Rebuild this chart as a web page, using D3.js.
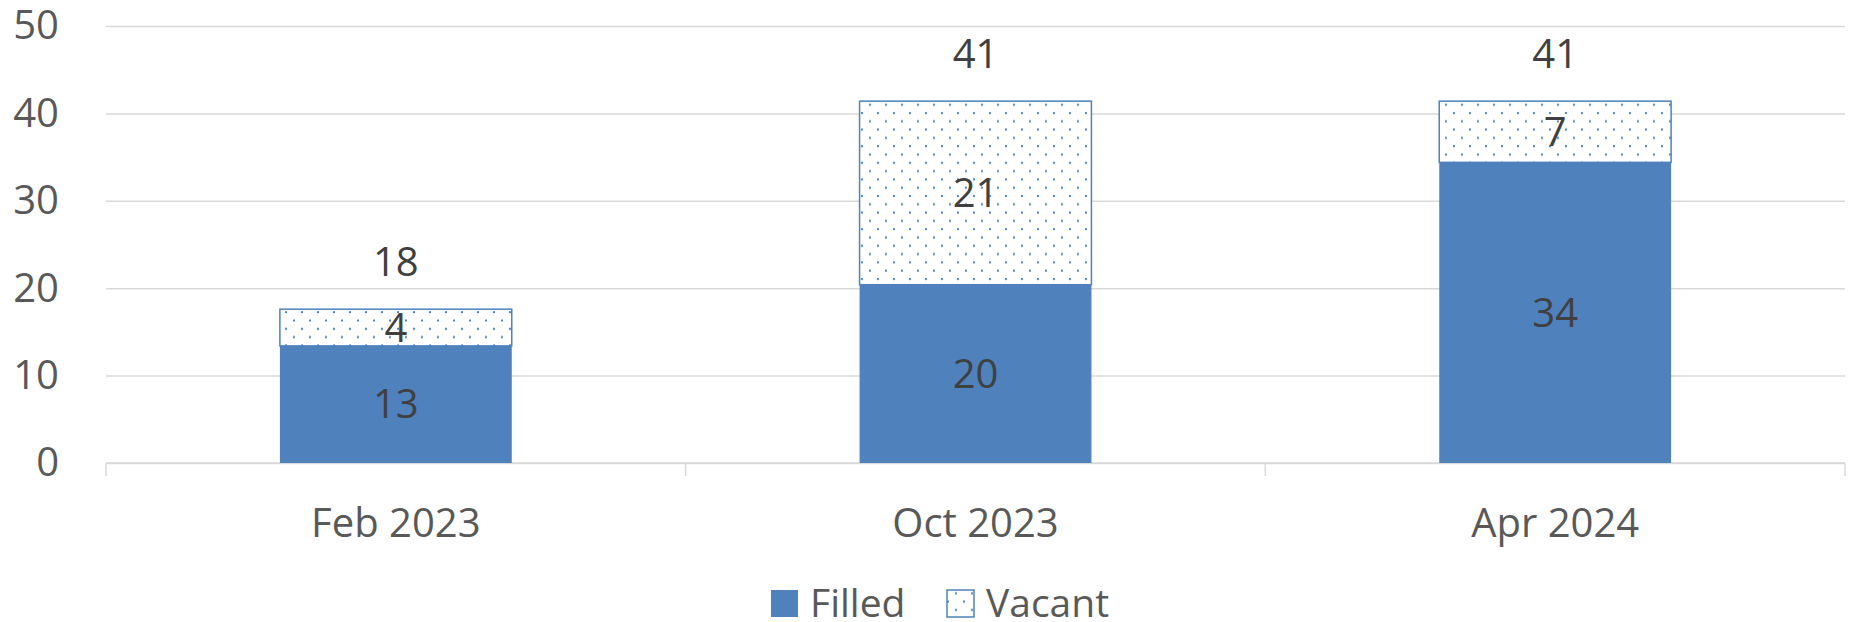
<!DOCTYPE html>
<html>
<head>
<meta charset="utf-8">
<script src="https://cdn.jsdelivr.net/npm/d3@7"></script>
<style>
    body { margin: 0; background: #fff; }
    text { font-family: "Open Sans", "Noto Sans", sans-serif; }
</style>
</head>
<body>
<div id="chart"></div>
<script>
// data
const categories = ["Feb 2023", "Oct 2023", "Apr 2024"]
const filled = [13.4, 20.4, 34.4]
const vacant = [4.2, 21.0, 7.0]
const seriesNames = ["Filled", "Vacant"]
const yTicks = [0, 10, 20, 30, 40, 50]

const BLUE = "#4f81bd"

class StackedBars {

    constructor(parentElement) {
        this.parentElement = parentElement
        this.data = categories.map((c, i) => ({ cat: c, Filled: filled[i], Vacant: vacant[i] }))
        this.initVis()
    }

    initVis() {
        let vis = this

        vis.margin = { top: 26, right: 7, bottom: 159, left: 106 }
        vis.width = 1852 - vis.margin.left - vis.margin.right
        vis.height = 622 - vis.margin.top - vis.margin.bottom

        vis.root = d3.select("#" + vis.parentElement).append("svg")
            .attr("width", 1852)
            .attr("height", 622)

        // dotted fill for vacant
        let pat = vis.root.append("defs").append("pattern")
            .attr("id", "dots")
            .attr("patternUnits", "userSpaceOnUse")
            .attr("width", 16)
            .attr("height", 16.6)
        pat.append("rect").attr("width", 16).attr("height", 16.6).attr("fill", "#fff")
        pat.append("rect").attr("x", 3).attr("y", 3).attr("width", 2).attr("height", 2).attr("fill", BLUE)
        pat.append("rect").attr("x", 11).attr("y", 11.3).attr("width", 2).attr("height", 2).attr("fill", BLUE)

        vis.svg = vis.root.append("g")
            .attr("transform", "translate(" + vis.margin.left + "," + vis.margin.top + ")")

        // scales
        vis.x = d3.scaleBand()
            .domain(categories)
            .range([0, vis.width])
            .paddingInner(0.6)
            .paddingOuter(0.3)

        vis.y = d3.scaleLinear()
            .domain([0, 50])
            .range([vis.height, 0])

        // gridlines + y labels
        let yAxis = d3.axisLeft(vis.y)
            .tickValues(yTicks)
            .tickSize(-vis.width)
            .tickPadding(47)

        vis.svg.append("g")
            .attr("class", "y-axis")
            .call(yAxis)
            .call(g => g.select(".domain").remove())
            .call(g => g.selectAll("line").attr("stroke", "#d9d9d9").attr("stroke-width", 1.5))
            .call(g => g.selectAll("text")
                .attr("fill", "#595959")
                .attr("font-size", "40px")
                .attr("font-family", "'Open Sans', 'Noto Sans', sans-serif"))

        // x axis labels
        let xAxis = d3.axisBottom(vis.x).tickSize(0).tickPadding(0)
        vis.svg.append("g")
            .attr("class", "x-axis")
            .attr("transform", "translate(0," + vis.height + ")")
            .call(xAxis)
            .call(g => g.select(".domain").remove())
            .call(g => g.selectAll("text")
                .attr("y", 60)
                .attr("dy", "0.35em")
                .attr("fill", "#595959")
                .attr("font-size", "40px")
                .attr("font-family", "'Open Sans', 'Noto Sans', sans-serif"))

        // category boundary ticks
        let step = vis.x.step()
        let bounds = categories.map(c => vis.x(c) - step * vis.x.paddingOuter())
        bounds.push(vis.width)
        vis.svg.append("line")
            .attr("x1", 0).attr("x2", vis.width)
            .attr("y1", vis.height).attr("y2", vis.height)
            .attr("stroke", "#d9d9d9").attr("stroke-width", 1.5)
        vis.svg.selectAll(".x-tick")
            .data(bounds)
            .enter().append("line")
            .attr("class", "x-tick")
            .attr("x1", d => d).attr("x2", d => d)
            .attr("y1", vis.height).attr("y2", vis.height + 13)
            .attr("stroke", "#d9d9d9").attr("stroke-width", 1.5)

        vis.wrangleData()
    }

    wrangleData() {
        let vis = this
        vis.stacked = d3.stack().keys(seriesNames)(vis.data)
        vis.updateVis()
    }

    updateVis() {
        let vis = this
        let fmt = d3.format(".0f")

        let layers = vis.svg.selectAll(".layer")
            .data(vis.stacked)
            .enter().append("g")
            .attr("class", "layer")

        layers.selectAll("rect")
            .data(d => d.map(s => ({ key: d.key, s: s })))
            .enter().append("rect")
            .attr("x", d => vis.x(d.s.data.cat))
            .attr("width", vis.x.bandwidth())
            .attr("y", d => vis.y(d.s[1]))
            .attr("height", d => vis.y(d.s[0]) - vis.y(d.s[1]))
            .attr("fill", d => d.key === "Filled" ? BLUE : "url(#dots)")
            .attr("stroke", d => d.key === "Filled" ? "none" : BLUE)
            .attr("stroke-width", 1.5)

        // segment labels
        layers.selectAll("text")
            .data(d => d.map(s => ({ key: d.key, s: s })))
            .enter().append("text")
            .attr("x", d => vis.x(d.s.data.cat) + vis.x.bandwidth() / 2)
            .attr("y", d => (vis.y(d.s[0]) + vis.y(d.s[1])) / 2)
            .attr("dy", "0.35em")
            .attr("text-anchor", "middle")
            .attr("font-size", "40px")
            .attr("fill", "#404040")
            .text(d => fmt(d.s[1] - d.s[0]))

        // totals
        vis.svg.selectAll(".total")
            .data(vis.data)
            .enter().append("text")
            .attr("class", "total")
            .attr("x", d => vis.x(d.cat) + vis.x.bandwidth() / 2)
            .attr("y", d => vis.y(d.Filled + d.Vacant) - 47)
            .attr("dy", "0.35em")
            .attr("text-anchor", "middle")
            .attr("font-size", "40px")
            .attr("fill", "#404040")
            .text(d => fmt(d.Filled + d.Vacant))

        // legend
        let legend = vis.root.append("g").attr("class", "legend")
        let items = [
            { name: "Filled", x: 771, fill: BLUE, stroke: "none" },
            { name: "Vacant", x: 947, fill: "url(#dots)", stroke: BLUE }
        ]
        items.forEach((it, i) => {
            legend.append("rect")
                .attr("x", it.x).attr("y", 590)
                .attr("width", 27).attr("height", 27)
                .attr("fill", it.fill)
                .attr("stroke", it.stroke)
                .attr("stroke-width", 1.5)
            legend.append("text")
                .attr("x", it.x + 39)
                .attr("y", 603)
                .attr("dy", "0.35em")
                .attr("font-size", "39px")
                .attr("fill", "#595959")
                .text(seriesNames[i])
        })
    }
}

new StackedBars("chart")
</script>
</body>
</html>
